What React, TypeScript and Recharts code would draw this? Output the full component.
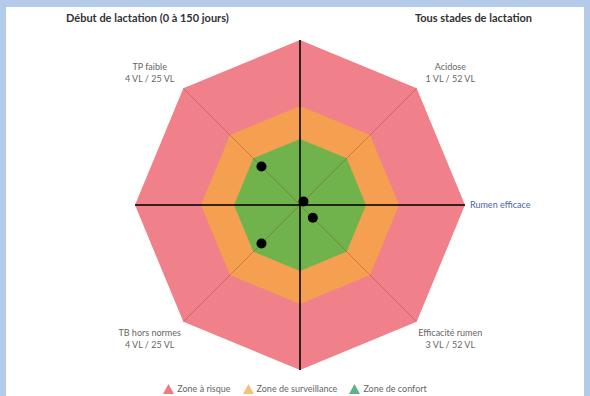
import { RadarChart, Radar, PolarGrid, PolarAngleAxis, PolarRadiusAxis, Legend } from "recharts"

// axis keys, clockwise from the top
const axisKeys = ["top", "acidose", "rumen", "efficacite", "bottom", "tb", "left", "tp"]
const axisNames = ["", "Acidose", "Rumen efficace", "Efficacité rumen", "", "TB hors normes", "", "TP faible"]
const axisCounts = ["", "1 VL / 52 VL", "", "3 VL / 52 VL", "", "4 VL / 25 VL", "", "4 VL / 25 VL"]

const riskZone = [5, 5, 5, 5, 5, 5, 5, 5]
const watchZone = [3, 3, 3, 3, 3, 3, 3, 3]
const comfortZone = [2, 2, 2, 2, 2, 2, 2, 2]
const herdValues: (number | null)[] = [null, 0.15, null, 0.55, null, 1.65, null, 1.65]

const zoneNames = ["Zone à risque", "Zone de surveillance", "Zone de confort"]
const zoneFills = ["#f0808a", "#f5a050", "#70b24b"]
const legendColors = ["#ec7a7f", "#f6c07a", "#5cb38a"]

const data = axisKeys.map((k, i) => ({
  key: k,
  risk: riskZone[i],
  watch: watchZone[i],
  comfort: comfortZone[i],
  herd: herdValues[i]
}))

const FONT = "Lato, 'Open Sans', sans-serif"

function AxisTick(props: any) {
  const { x, y, payload } = props
  const i = axisKeys.indexOf(payload.value)
  const name = axisNames[i]
  if (!name) return <g />
  if (i === 2) {
    return (
      <text x={x - 3} y={y} dy={3} textAnchor="start" fontSize={9} fontFamily={FONT} fill="#4a64b0">
        {name}
      </text>
    )
  }
  const left = i > 4
  const top = i === 1 || i === 7
  const cxT = x + (left ? -28 : 28)
  const cyT = y + (top ? -10 : 12)
  return (
    <g>
      <text x={cxT} y={cyT - 3} textAnchor="middle" fontSize={9} fontFamily={FONT} fill="#666">
        {name}
      </text>
      <text x={cxT} y={cyT + 9} textAnchor="middle" fontSize={9} fontFamily={FONT} fill="#666">
        {axisCounts[i]}
      </text>
    </g>
  )
}

function HerdDot(props: any) {
  const { cx, cy, payload } = props
  if (payload == null || payload.herd == null || !Number.isFinite(cx) || !Number.isFinite(cy)) return <g />
  return <circle cx={cx} cy={cy} r={5} fill="#000" />
}

function ZoneLegend() {
  return (
    <div style={{ display: "flex", justifyContent: "center", gap: 12, fontFamily: FONT, fontSize: 9, color: "#666" }}>
      {zoneNames.map((n, i) => (
        <span key={n} style={{ display: "flex", alignItems: "center", gap: 3 }}>
          <svg width={11} height={10}>
            <polygon points="5.5,0 11,10 0,10" fill={legendColors[i]} />
          </svg>
          {n}
        </span>
      ))}
    </div>
  )
}

export default function App() {
  return (
    <div style={{ position: "fixed", left: 0, top: 0, width: 590, height: 396, background: "#b3cbe8" }}>
      <div style={{ position: "absolute", left: 6, top: 7, width: 578, height: 389, background: "#fff" }} />
      <div style={{ position: "absolute", left: 66, top: 11, fontFamily: FONT, fontWeight: 700, fontSize: 11, color: "#333" }}>
        Début de lactation (0 à 150 jours)
      </div>
      <div style={{ position: "absolute", right: 58, top: 11, fontFamily: FONT, fontWeight: 700, fontSize: 11, color: "#333" }}>
        Tous stades de lactation
      </div>
      <div style={{ position: "absolute", left: 0, top: 0 }}>
        <RadarChart width={590} height={396} data={data} cx={300} cy={205} outerRadius={165} margin={{ top: 0, right: 0, bottom: 0, left: 0 }}>
          <PolarRadiusAxis domain={[0, 5]} tickCount={11} axisLine={false} tick={false} />
          <PolarAngleAxis dataKey="key" tick={<AxisTick />} tickLine={false} axisLine={false} />
          <Radar dataKey="risk" name={zoneNames[0]} fill={zoneFills[0]} fillOpacity={1} stroke="none" isAnimationActive={false} />
          <Radar dataKey="watch" name={zoneNames[1]} fill={zoneFills[1]} fillOpacity={1} stroke="none" isAnimationActive={false} />
          <Radar dataKey="comfort" name={zoneNames[2]} fill={zoneFills[2]} fillOpacity={1} stroke="none" isAnimationActive={false} />
          <PolarGrid gridType="polygon" polarAngles={[]} stroke="#7a2a2a" strokeOpacity={0.1} zIndex={500} />
          <PolarGrid gridType="polygon" polarRadius={[]} stroke="#8a2020" strokeOpacity={0.3} zIndex={500} />
          <PolarGrid gridType="polygon" polarRadius={[]} polarAngles={[90, 0, 270, 180]} stroke="#000" strokeWidth={1.5} zIndex={510} />
          <Radar
            dataKey="herd"
            name="herd"
            legendType="none"
            fill="none"
            fillOpacity={0}
            stroke="none"
            dot={<HerdDot />}
            isAnimationActive={false}
          />
          <Legend verticalAlign="bottom" wrapperStyle={{ bottom: 2 }} content={<ZoneLegend />} />
        </RadarChart>
      </div>
    </div>
  )
}
